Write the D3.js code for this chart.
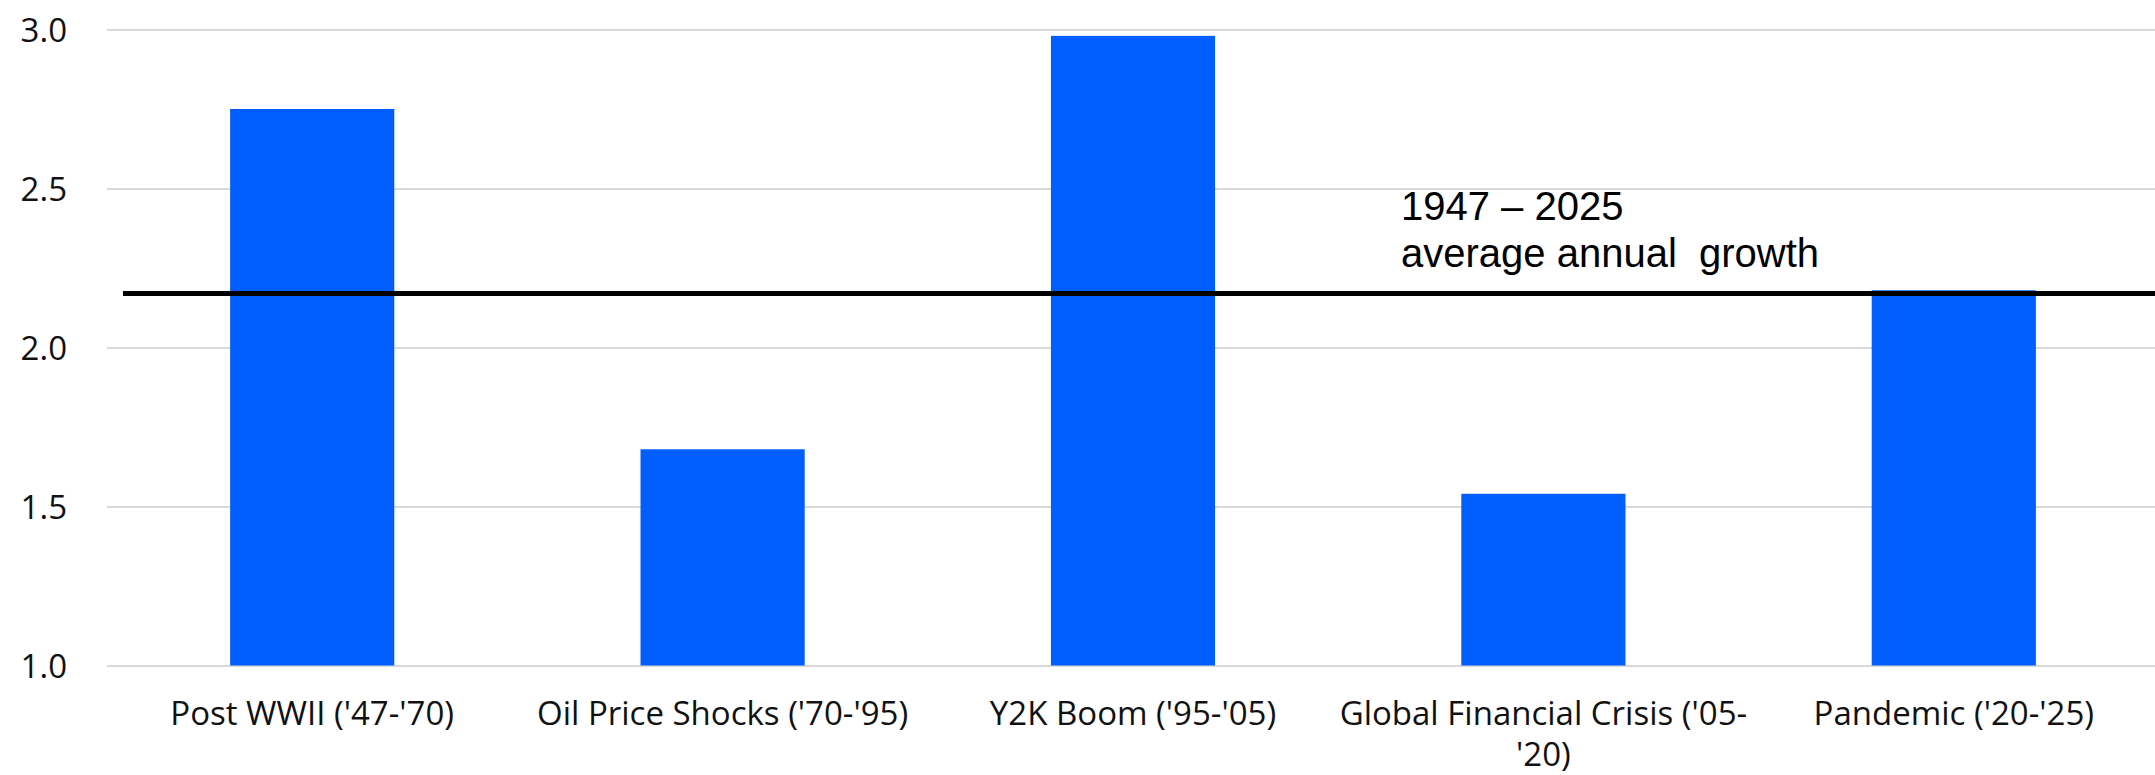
<!DOCTYPE html>
<html>
<head>
<meta charset="utf-8">
<script src="https://cdn.jsdelivr.net/npm/d3@7"></script>
<style>
  html, body { margin: 0; padding: 0; background: #fff; }
  svg { display: block; }
</style>
</head>
<body>
<svg id="chart" width="2155" height="775"></svg>
<script>
// Average annual growth by economic era
const categories = [
  "Post WWII ('47-'70)",
  "Oil Price Shocks ('70-'95)",
  "Y2K Boom ('95-'05)",
  "Global Financial Crisis ('05-'20)",
  "Pandemic ('20-'25)"
];
const growth = [2.75, 1.68, 2.98, 1.54, 2.18];
const yTicks = [1.0, 1.5, 2.0, 2.5, 3.0];
const longRunAverage = 2.17;
const averageLabel = ["1947 \u2013 2025", "average annual  growth"];

const width = 2155, height = 775;
const svg = d3.select("#chart");

const x = d3.scaleBand()
  .domain(categories)
  .range([107, 2159])
  .paddingInner(0.6)
  .paddingOuter(0.3);

const y = d3.scaleLinear()
  .domain([1.0, 3.0])
  .range([665.5, 29.5]);

const labelFont = "'Open Sans', 'Noto Sans', sans-serif";

// horizontal gridlines with value labels on the left
const yAxis = d3.axisLeft(y)
  .tickValues(yTicks)
  .tickFormat(d3.format(".1f"))
  .tickSize(-(width - 107))
  .tickPadding(40);

const gy = svg.append("g")
  .attr("transform", "translate(107,0)")
  .call(yAxis);
gy.select(".domain").remove();
gy.selectAll(".tick line")
  .attr("stroke", "#d9d9d9")
  .attr("stroke-width", 2);
gy.selectAll(".tick text")
  .attr("fill", "#111")
  .attr("font-family", labelFont)
  .attr("font-size", 33)
  .attr("dy", "0.36em");

// bars
svg.append("g")
  .selectAll("rect")
  .data(growth)
  .join("rect")
  .attr("x", (d, i) => x(categories[i]))
  .attr("width", x.bandwidth())
  .attr("y", d => y(d))
  .attr("height", d => y(1.0) - y(d))
  .attr("fill", "#005eff");

// category labels, wrapped to the slot width; lines may break at spaces
// or right after a hyphen
const gx = svg.append("g");
const maxLine = x.step() + 10;
categories.forEach(cat => {
  const cx = x(cat) + x.bandwidth() / 2;
  const t = gx.append("text")
    .attr("x", cx)
    .attr("y", 725)
    .attr("text-anchor", "middle")
    .attr("font-family", labelFont)
    .attr("font-size", 33)
    .attr("fill", "#111");
  const pieces = cat.match(/[^\s-]+-?|-/g);
  const seps = [];
  let pos = 0;
  pieces.forEach(p => {
    const at = cat.indexOf(p, pos);
    seps.push(cat.slice(pos, at));
    pos = at + p.length;
  });
  let current = "";
  let tspan = t.append("tspan").attr("x", cx).attr("dy", 0);
  pieces.forEach((p, k) => {
    const trial = current === "" ? p : current + seps[k] + p;
    tspan.text(trial);
    if (tspan.node().getComputedTextLength() > maxLine && current !== "") {
      tspan.text(current);
      current = p;
      tspan = t.append("tspan").attr("x", cx).attr("dy", 41).text(p);
    } else {
      current = trial;
    }
  });
});

// long-run average reference line
svg.append("line")
  .attr("x1", 123)
  .attr("x2", width)
  .attr("y1", y(longRunAverage))
  .attr("y2", y(longRunAverage))
  .attr("stroke", "#000")
  .attr("stroke-width", 5);

const note = svg.append("text")
  .attr("font-family", "'Liberation Sans', Arial, sans-serif")
  .attr("font-size", 40)
  .attr("fill", "#000")
  .style("white-space", "pre");
averageLabel.forEach((s, i) => {
  note.append("tspan")
    .attr("x", 1401)
    .attr("y", 220 + i * 47)
    .text(s);
});
</script>
</body>
</html>
